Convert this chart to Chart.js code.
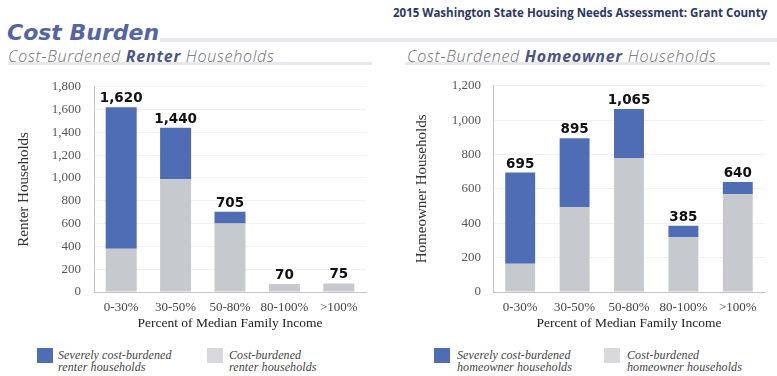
<!DOCTYPE html>
<html>
<head>
<meta charset="utf-8">
<script src="https://cdn.jsdelivr.net/npm/chart.js@4"></script>
<style>
  body { margin: 0; width: 777px; height: 376px; background: #fff; position: relative; overflow: hidden; font-family: "Open Sans", sans-serif; }
  .abs { position: absolute; white-space: nowrap; }
  #title { left: 7px; top: 20px; font: italic bold 22px "DejaVu Sans", sans-serif; color: #5564a5; }
  #header { left: 393px; top: 5px; font: bold 11.5px "Open Sans", sans-serif; color: #2b3764; }
  .rule { position: absolute; background: #e6e7ea; }
  .sub { top: 45px; font: italic 300 16px "Open Sans", sans-serif; letter-spacing: 0.75px; color: #6b6d72; }
  .sub b { font-weight: 700; color: #4a5486; }
  .sw { position: absolute; width: 16px; height: 15px; top: 348px; }
  .lt { position: absolute; top: 350px; font: italic 12px/11.5px "Liberation Serif", serif; color: #444; letter-spacing: 0.1px; }
  .box { position: absolute; }
</style>
</head>
<body>
<div class="abs" id="title">Cost Burden</div>
<div class="abs" id="header">2015 Washington State Housing Needs Assessment: Grant County</div>
<div class="rule" style="left:160px; top:38px; width:617px; height:4px;"></div>
<div class="abs sub" style="left:8px;">Cost-Burdened <b>Renter</b> Households</div>
<div class="abs sub" style="left:407px;">Cost-Burdened <b>Homeowner</b> Households</div>
<div class="rule" style="left:8px; top:62px; width:364px; height:3px;"></div>
<div class="rule" style="left:405px; top:62px; width:365px; height:3px;"></div>

<div class="box" style="left:0; top:66px; width:380px; height:270px;"><canvas id="renter"></canvas></div>
<div class="box" style="left:392px; top:66px; width:385px; height:270px;"><canvas id="owner"></canvas></div>

<div class="sw" style="left:37px; background:#4f6db5;"></div>
<div class="lt" style="left:58px;">Severely cost-burdened<br>renter households</div>
<div class="sw" style="left:207px; background:#d8d9dc;"></div>
<div class="lt" style="left:229px;">Cost-burdened<br>renter households</div>
<div class="sw" style="left:434px; background:#4f6db5;"></div>
<div class="lt" style="left:457px;">Severely cost-burdened<br>homeowner households</div>
<div class="sw" style="left:604px; background:#d8d9dc;"></div>
<div class="lt" style="left:627px;">Cost-burdened<br>homeowner households</div>

<script>
const categories = ['0-30%', '30-50%', '50-80%', '80-100%', '>100%'];

const renterCost = [380, 990, 600, 70, 75];
const renterSevere = [1240, 450, 105, 0, 0];
const renterTotals = [1620, 1440, 705, 70, 75];

const ownerCost = [165, 495, 780, 320, 570];
const ownerSevere = [530, 400, 285, 65, 70];
const ownerTotals = [695, 895, 1065, 385, 640];

const BLUE = '#4f6db5';
const GRAY = '#c6c9cd';
const serif = '"Liberation Serif", serif';

// totals written above each stacked bar
const totalLabels = {
  id: 'totalLabels',
  afterDatasetsDraw(chart, args, opts) {
    const ctx = chart.ctx;
    const meta = chart.getDatasetMeta(1);
    ctx.save();
    ctx.font = 'bold 13.5px "DejaVu Sans", sans-serif';
    ctx.fillStyle = '#111';
    ctx.textAlign = 'center';
    ctx.textBaseline = 'alphabetic';
    opts.totals.forEach((t, i) => {
      const x = meta.data[i].x;
      const y = chart.scales.y.getPixelForValue(t);
      ctx.fillText(t.toLocaleString('en-US'), x, y - 5);
    });
    ctx.restore();
  }
};

function makeChart(id, cost, severe, totals, o) {
  new Chart(document.getElementById(id), {
    type: 'bar',
    data: {
      labels: categories,
      datasets: [
        { label: 'Cost-burdened', data: cost, backgroundColor: GRAY, barPercentage: o.bar, categoryPercentage: 1 },
        { label: 'Severely cost-burdened', data: severe, backgroundColor: BLUE, barPercentage: o.bar, categoryPercentage: 1 }
      ]
    },
    options: {
      responsive: true,
      maintainAspectRatio: false,
      animation: false,
      layout: { padding: { left: o.padLeft, right: o.padRight, top: 19, bottom: 0 } },
      plugins: {
        legend: { display: false },
        tooltip: { enabled: false },
        totalLabels: { totals: totals }
      },
      scales: {
        x: {
          stacked: true,
          grid: { display: false, drawTicks: false },
          border: { color: '#c2c4c7' },
          ticks: { color: '#444', font: { family: serif, size: 13 }, padding: 8, maxRotation: 0 },
          title: { display: true, text: 'Percent of Median Family Income', color: '#222', font: { family: serif, size: 13.5 } },
          afterFit: s => { s.height = 44; }
        },
        y: {
          stacked: true,
          min: 0,
          max: o.max,
          grid: { color: '#f1f2f3', drawTicks: false },
          border: { color: '#c2c4c7' },
          ticks: { stepSize: 200, color: '#555', font: { family: serif, size: 13 }, padding: o.tickPad,
                   callback: v => v.toLocaleString('en-US') },
          title: { display: true, text: o.yTitle, color: '#333', font: { family: serif, size: 15 } },
          afterFit: s => { s.width = o.yWidth; }
        }
      }
    },
    plugins: [totalLabels]
  });
}

makeChart('renter', renterCost, renterSevere, renterTotals,
  { max: 1800, yTitle: 'Renter Households', padLeft: 11, padRight: 14, yWidth: 83, tickPad: 13, bar: 0.57 });
makeChart('owner', ownerCost, ownerSevere, ownerTotals,
  { max: 1200, yTitle: 'Homeowner Households', padLeft: 17, padRight: 12, yWidth: 84, tickPad: 12, bar: 0.55 });
</script>
</body>
</html>
